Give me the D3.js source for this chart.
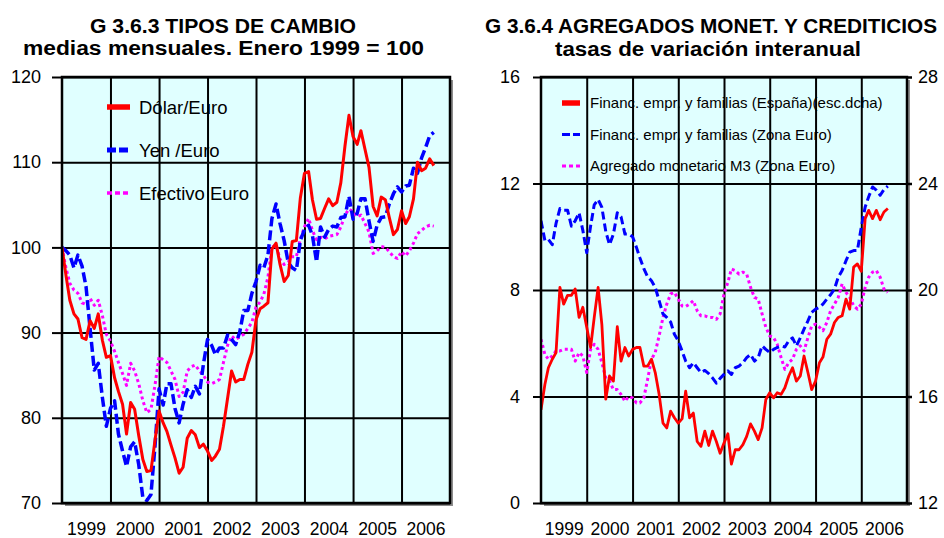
<!DOCTYPE html>
<html>
<head>
<meta charset="utf-8">
<script src="https://cdn.jsdelivr.net/npm/d3@7"></script>
<style>
  body { margin: 0; background: #fff; }
  svg { display: block; }
  text { font-family: "Liberation Sans", Arial, sans-serif; fill: #000; }
</style>
</head>
<body>
<svg id="chart" width="944" height="538"></svg>
<script>
// ---- data: monthly series starting January 1999 ----
const years = [1999, 2000, 2001, 2002, 2003, 2004, 2005, 2006];
const tcTicks = [70, 80, 90, 100, 110, 120];
const agLeftTicks = [0, 4, 8, 12, 16];
const agRightTicks = [12, 16, 20, 24, 28];

// G 3.6.3 exchange rates, index Jan 1999 = 100
const dolarEuro = [
  100, 96.6, 93.8, 92.2, 91.6, 89.4, 89.2, 91.4, 90.5, 92.2, 89.1, 87.1,
  87.3, 84.7, 83.1, 81.6, 78.1, 81.8, 81.0, 77.9, 75.1, 73.7, 73.8, 77.3,
  80.8, 79.4, 78.4, 76.8, 75.3, 73.5, 74.2, 77.6, 78.5, 78.0, 76.5, 76.9,
  76.1, 75.0, 75.5, 76.3, 79.0, 82.3, 85.5, 84.2, 84.5, 84.5, 86.3, 87.7,
  91.5, 92.8, 93.1, 93.5, 99.8, 100.5, 98.0, 96.0, 96.7, 100.7, 100.8, 105.8,
  108.7, 108.9, 105.6, 103.3, 103.4, 104.6, 105.7, 104.9, 105.3, 107.6, 111.9, 115.5,
  113.0, 112.1, 113.7, 111.5, 109.4, 104.8, 103.7, 105.9, 105.6, 103.5, 101.5, 102.1,
  104.3, 102.8, 103.6, 105.7, 110.0, 109.0, 109.3, 110.4, 109.6
];
const yenEuro = [
  100, 99.6, 99.1, 97.6, 99.1, 97.8, 95.4, 90.4, 85.6, 86.4, 82.4, 79.0,
  81.1, 82.0, 78.1, 76.1, 74.3, 76.6, 77.2, 74.5, 70.6, 70.3, 71.0, 76.6,
  83.4, 81.5, 84.0, 84.0, 81.1, 79.4, 81.6, 83.3, 82.4, 83.7, 82.8, 86.3,
  89.2, 88.5, 87.4, 88.2, 88.2, 89.7, 89.2, 88.6, 90.1, 92.6, 92.6, 94.6,
  96.0, 97.9, 97.6, 99.1, 103.4, 105.1, 102.8, 100.8, 98.2, 97.6, 97.3, 100.8,
  102.1, 102.6, 101.4, 98.3, 102.4, 101.2, 102.1, 102.5, 102.4, 103.5, 103.6, 106.0,
  103.3, 104.0, 105.7, 105.7, 103.1, 100.7, 102.6, 103.5, 103.6, 105.1, 106.3, 107.1,
  106.5, 107.2, 107.3, 109.3, 108.7, 110.5, 111.7, 113.1, 113.5
];
const efectivoEuro = [
  100, 97.5, 95.8, 95.0, 94.6, 93.5, 93.3, 94.0, 93.2, 93.8, 92.0, 89.8,
  89.0, 87.8, 86.5, 85.2, 83.8, 86.4, 85.5, 84.0, 82.0, 80.6, 81.0, 83.8,
  87.2, 86.8, 86.5, 85.5, 84.5, 82.5, 83.0, 85.5, 86.0, 86.2, 85.5, 85.0,
  84.2, 84.0, 84.2, 84.5, 86.5, 88.5, 89.6, 89.2, 89.5, 89.8, 90.5, 91.2,
  93.0, 93.6, 94.5, 96.5, 100.0, 100.3, 98.6, 98.0, 98.3, 98.9, 98.9, 101.0,
  102.4, 103.4, 102.0, 100.9, 101.2, 101.0, 101.3, 101.4, 101.5, 102.4, 103.8, 104.5,
  104.2, 103.6, 103.8, 102.8, 101.8, 99.3, 99.6, 100.1, 100.0, 99.5, 98.9, 98.7,
  99.5, 99.0, 99.6, 100.5, 101.6, 102.0, 102.4, 102.6, 102.5
];

// G 3.6.4 year-on-year growth rates (%)
const financEspana = [   // right-hand scale
  15.5, 16.45, 17.08, 17.4, 17.65, 20.1, 19.47, 19.8, 19.8, 20.04, 18.97, 19.35,
  18.6, 17.84, 18.97, 20.1, 18.7, 15.9, 16.77, 16.58, 18.62, 17.33, 17.84, 17.52,
  17.77, 17.84, 17.84, 17.14, 17.14, 17.4, 16.9, 16.08, 15.0, 14.82, 15.45, 15.2,
  15.0, 15.17, 16.2, 15.2, 15.38, 14.31, 14.13, 14.7, 14.16, 14.7, 14.31, 13.87,
  14.25, 14.6, 13.46, 14.0, 14.0, 14.19, 14.5, 14.97, 14.7, 14.38, 14.82, 15.89,
  16.14, 15.95, 16.14, 16.08, 16.33, 16.77, 17.08, 16.58, 16.77, 17.52, 16.9, 16.26,
  16.58, 17.27, 17.48, 18.15, 18.34, 18.78, 18.97, 19.03, 19.66, 19.28, 20.86, 20.98,
  20.7, 22.68, 22.99, 22.68, 22.99, 22.64, 22.93, 23.06
];
const financZonaEuro = [
  10.6, 9.86, 9.9, 9.7, 10.5, 11.06, 11.0, 11.0, 10.4, 10.6, 10.9, 10.24,
  9.4, 10.4, 11.2, 11.4, 11.1, 10.2, 9.7, 10.1, 10.9, 10.75, 10.1, 10.1,
  10.0, 9.6, 9.2, 8.8, 8.5, 8.35, 8.1, 7.6, 7.1, 6.97, 6.8, 6.34,
  6.09, 5.7, 5.33, 5.08, 5.27, 5.08, 4.9, 4.98, 4.86, 4.7, 4.5, 4.68,
  4.83, 4.96, 4.83, 5.08, 5.14, 5.27, 5.46, 5.58, 5.33, 5.46, 5.9, 5.77,
  5.65, 5.77, 5.84, 5.9, 5.86, 6.09, 6.2, 5.9, 6.2, 6.53, 6.84, 7.16,
  7.28, 7.35, 7.47, 7.66, 7.82, 8.04, 8.48, 8.73, 9.1, 9.42, 9.48, 9.48,
  10.36, 11.12, 11.5, 11.87, 11.75, 11.56, 11.77, 11.9
];
const m3ZonaEuro = [
  6.15, 5.58, 5.4, 5.52, 5.71, 5.71, 5.77, 5.77, 5.77, 5.33, 5.65, 5.52,
  4.9, 5.77, 5.96, 5.77, 5.27, 4.7, 4.58, 4.26, 4.26, 4.08, 3.82, 4.0,
  3.95, 3.76, 3.76, 3.95, 4.64, 5.4, 5.65, 6.28, 6.97, 7.47, 7.85, 7.91,
  7.66, 7.4, 7.38, 7.47, 7.6, 7.22, 7.03, 7.03, 6.97, 6.97, 6.9, 7.1,
  7.85, 8.29, 8.79, 8.73, 8.6, 8.67, 8.6, 8.1, 7.72, 7.66, 7.1, 6.6,
  6.28, 6.21, 5.96, 5.46, 5.02, 5.27, 5.4, 5.77, 5.9, 5.71, 6.21, 6.65,
  6.72, 6.6, 6.47, 6.78, 7.22, 7.47, 7.72, 8.23, 7.91, 7.72, 7.41, 7.28,
  7.47, 8.1, 8.48, 8.67, 8.73, 8.48, 8.04, 7.91
];

// ---- drawing helpers ----
const svg = d3.select("#chart");
svg.append("rect").attr("width", 944).attr("height", 538).attr("fill", "#fff");

const asMonthly = vals => vals.map((v, i) => ({ date: new Date(1999, i, 1), v }));
const axisFont = 18;

function drawPanel(p) {
  const g = svg.append("g");
  const x = d3.scaleTime()
    .domain([new Date(1999, 0, 1), new Date(2007, 0, 1)])
    .range([p.x0, p.x1]);
  const w = p.x1 - p.x0, h = p.y1 - p.y0;

  // plot background and shadow
  g.append("rect").attr("x", p.x0 + 3).attr("y", p.y0 + 3)
    .attr("width", w).attr("height", h).attr("fill", "#8c8c8c");
  g.append("rect").attr("x", p.x0).attr("y", p.y0)
    .attr("width", w).attr("height", h).attr("fill", "#e0ffff");

  // vertical year grid
  const gx = g.append("g").attr("transform", `translate(0,${p.y1})`)
    .call(d3.axisBottom(x)
      .tickValues(years.slice(1).map(y => new Date(y, 0, 1)))
      .tickSize(-h).tickFormat(""));
  gx.select(".domain").remove();
  gx.selectAll("line").attr("stroke", "#000").attr("stroke-width", 2);

  // horizontal grid
  const gy = g.append("g").attr("transform", `translate(${p.x0},0)`)
    .call(d3.axisLeft(p.yL).tickValues(p.ticksL).tickSize(-w).tickFormat(""));
  gy.select(".domain").remove();
  gy.selectAll("line").attr("stroke", "#000").attr("stroke-width", 2);

  // series
  const clipId = "clip" + p.id;
  svg.append("clipPath").attr("id", clipId).append("rect")
    .attr("x", p.x0).attr("y", p.y0).attr("width", w).attr("height", h);
  const lines = g.append("g").attr("clip-path", `url(#${clipId})`);
  p.series.slice().reverse().forEach(s => {
    const line = d3.line().x(d => x(d.date)).y(d => s.scale(d.v));
    lines.append("path").datum(asMonthly(s.values))
      .attr("d", line).attr("fill", "none")
      .attr("stroke", s.color).attr("stroke-width", s.width)
      .attr("stroke-dasharray", s.dash || null)
      .attr("stroke-linejoin", "round");
  });

  // frame
  g.append("rect").attr("x", p.x0).attr("y", p.y0)
    .attr("width", w).attr("height", h)
    .attr("fill", "none").attr("stroke", "#000").attr("stroke-width", 2.5);

  // left axis
  const ax = g.append("g").attr("transform", `translate(${p.x0},0)`)
    .call(d3.axisLeft(p.yL).tickValues(p.ticksL).tickSize(p.tickL).tickPadding(p.padL));
  ax.select(".domain").remove();
  ax.selectAll("line").attr("stroke", "#000").attr("stroke-width", 2);
  ax.selectAll("text").attr("font-size", axisFont).attr("font-family", "Liberation Sans, Arial, sans-serif");

  // right axis
  if (p.yR) {
    const ar = g.append("g").attr("transform", `translate(${p.x1},0)`)
      .call(d3.axisRight(p.yR).tickValues(p.ticksR).tickSize(5).tickPadding(6));
    ar.select(".domain").remove();
    ar.selectAll("line").attr("stroke", "#000").attr("stroke-width", 2.5);
    ar.selectAll("text").attr("font-size", axisFont).attr("font-family", "Liberation Sans, Arial, sans-serif");
  }

  // year labels centred in each year
  const al = g.append("g").attr("transform", `translate(0,${p.y1})`)
    .call(d3.axisBottom(x)
      .tickValues(years.map(y => new Date(y, 6, 1)))
      .tickSize(0).tickPadding(20).tickFormat(d3.timeFormat("%Y")));
  al.select(".domain").remove();
  al.selectAll("text").attr("font-size", 17.5).attr("font-family", "Liberation Sans, Arial, sans-serif");

  // titles
  p.titles.forEach(t => {
    svg.append("text").attr("x", t.x).attr("y", t.y)
      .attr("font-size", 20).attr("font-weight", "bold")
      .attr("textLength", t.len).attr("lengthAdjust", "spacingAndGlyphs")
      .text(t.text);
  });

  // legend
  p.series.forEach((s, i) => {
    const ly = p.legend.y0 + i * p.legend.dy;
    g.append("line")
      .attr("x1", p.legend.x0).attr("x2", p.legend.x0 + p.legend.len)
      .attr("y1", ly).attr("y2", ly)
      .attr("stroke", s.color).attr("stroke-width", s.legendWidth)
      .attr("stroke-dasharray", s.legendDash || null);
    g.append("text").attr("x", p.legend.tx).attr("y", ly)
      .attr("dy", "0.36em").attr("font-size", p.legend.font)
      .text(s.label);
  });
}

// G 3.6.3
const yTC = d3.scaleLinear().domain([70, 120]).range([503, 77]);
drawPanel({
  id: "tc", x0: 62, x1: 450, y0: 77, y1: 503,
  yL: yTC, ticksL: tcTicks, tickL: 10, padL: 11,
  titles: [
    { text: "G 3.6.3 TIPOS DE CAMBIO", x: 90, y: 33, len: 266 },
    { text: "medias mensuales. Enero 1999 = 100", x: 23, y: 55, len: 401 }
  ],
  legend: { x0: 107, len: 23, tx: 139, y0: 107, dy: 43, font: 18.5 },
  series: [
    { label: "Dólar/Euro", values: dolarEuro, scale: yTC, color: "#ff0000",
      width: 3, legendWidth: 5.5 },
    { label: "Yen /Euro", values: yenEuro, scale: yTC, color: "#0000ff",
      width: 3.5, dash: "10,4", legendWidth: 5, legendDash: "9,3" },
    { label: "Efectivo Euro", values: efectivoEuro, scale: yTC, color: "#ff00ff",
      width: 3, dash: "3,3", legendWidth: 3.5, legendDash: "5,3" }
  ]
});

// G 3.6.4
const yAgL = d3.scaleLinear().domain([0, 16]).range([503, 77]);
const yAgR = d3.scaleLinear().domain([12, 28]).range([503, 77]);
drawPanel({
  id: "ag", x0: 541, x1: 907, y0: 77, y1: 503,
  yL: yAgL, ticksL: agLeftTicks, tickL: 8, padL: 13,
  yR: yAgR, ticksR: agRightTicks,
  titles: [
    { text: "G 3.6.4 AGREGADOS MONET. Y CREDITICIOS", x: 485, y: 33, len: 452 },
    { text: "tasas de variación interanual", x: 555, y: 56, len: 306 }
  ],
  legend: { x0: 562, len: 18, tx: 590, y0: 103, dy: 31.5, font: 15 },
  series: [
    { label: "Financ. empr. y familias (España)(esc.dcha)", values: financEspana,
      scale: yAgR, color: "#ff0000", width: 2.8, legendWidth: 5.5 },
    { label: "Financ. empr. y familias (Zona Euro)", values: financZonaEuro,
      scale: yAgL, color: "#0000ff", width: 3, dash: "8,4", legendWidth: 3, legendDash: "8,3" },
    { label: "Agregado monetario M3 (Zona Euro)", values: m3ZonaEuro,
      scale: yAgL, color: "#ff00ff", width: 3, dash: "3,3", legendWidth: 3, legendDash: "4,3" }
  ]
});
</script>
</body>
</html>
